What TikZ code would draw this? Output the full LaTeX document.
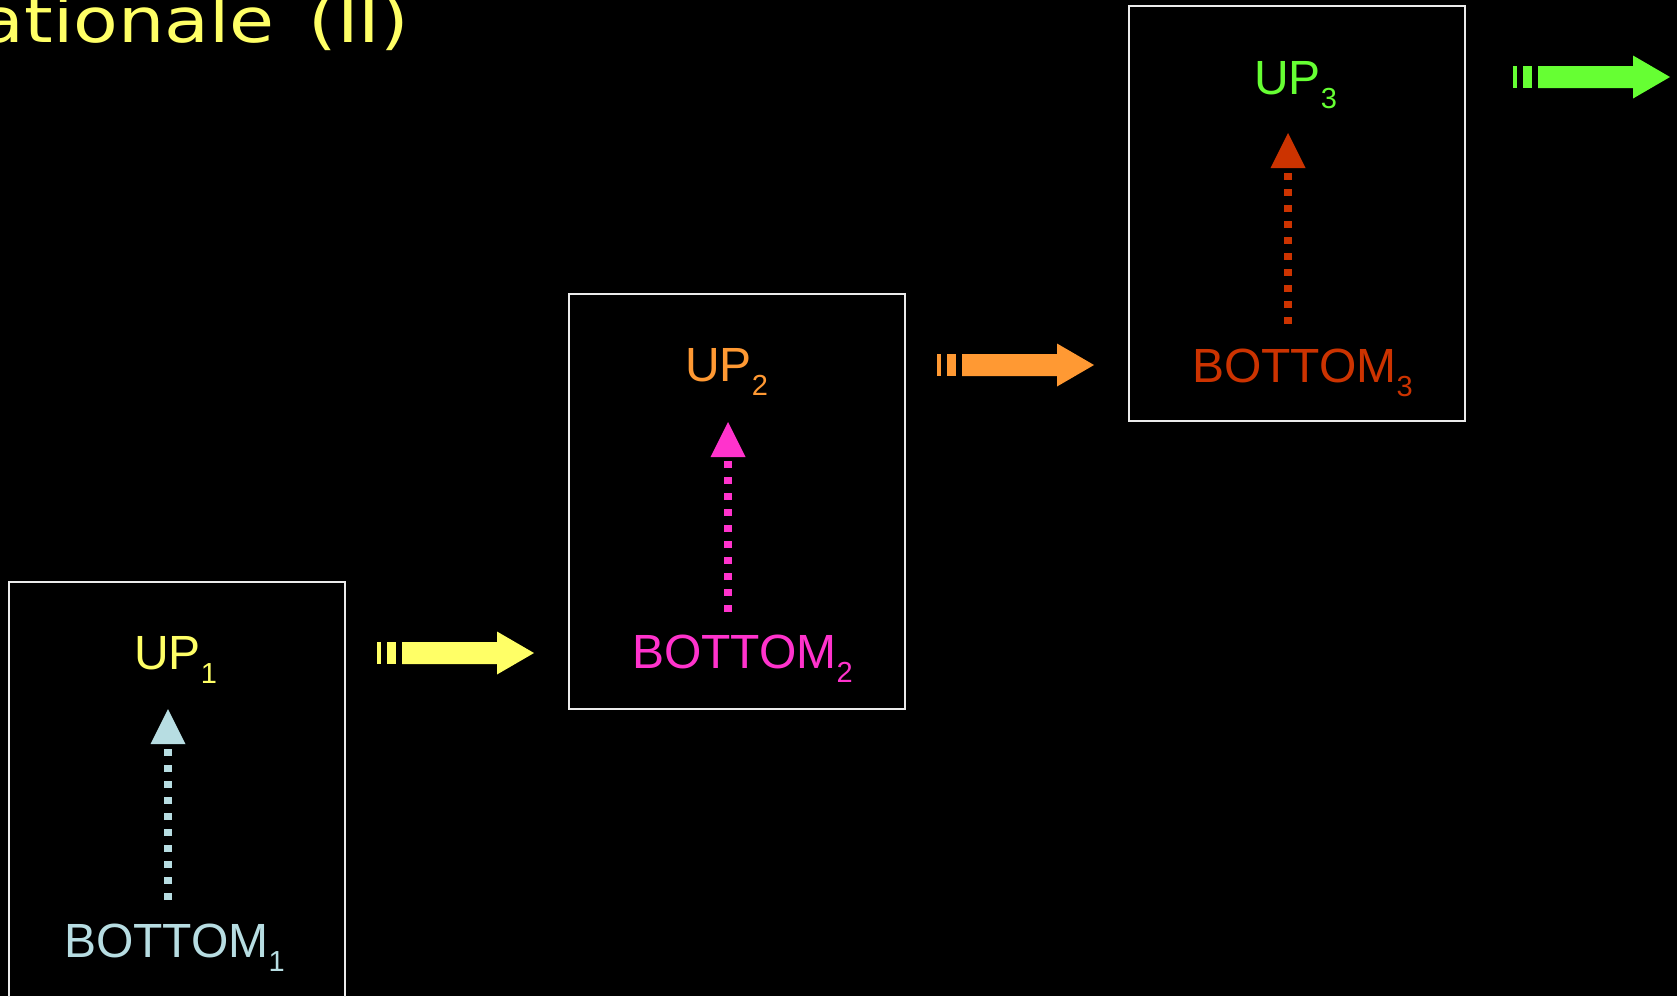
\documentclass[tikz,border=0pt]{standalone}
\usepackage{fontspec}
\setmainfont{Liberation Sans}
\newfontfamily\titlefont{DejaVu Sans}
\usetikzlibrary{arrows.meta}
\definecolor{cyel}{RGB}{255,255,102}
\definecolor{cblue}{RGB}{183,221,226}
\definecolor{corange}{RGB}{255,153,51}
\definecolor{cmag}{RGB}{255,51,204}
\definecolor{cgreen}{RGB}{102,255,51}
\definecolor{cred}{RGB}{204,51,0}
\newcommand\mysub[1]{\raisebox{-14pt}{\fontsize{29}{29}\selectfont #1}}
\tikzset{
  blockarrow/.pic={
    \fill (0,-11) rectangle (4,11);
    \fill (10,-11) rectangle (19,11);
    \fill (25,-11) -- (120,-11) -- (120,-21.5) -- (157,0) -- (120,21.5) -- (120,11) -- (25,11) -- cycle;
  }
}
\begin{document}
\begin{tikzpicture}[x=1pt,y=-1pt,
  lbl/.style={anchor=base west, inner sep=0pt, font=\fontsize{48}{48}\selectfont},
  frame/.style={draw=white!92!black, line width=2pt},
  dotarrow/.style={line width=8pt, dash pattern=on 7pt off 9pt,
    -{Triangle[length=35pt,width=35pt,line width=0pt]}}
]
\useasboundingbox (0,0) rectangle (1677,996);
\fill[black] (0,0) rectangle (1677,996);
\clip (0,0) rectangle (1677,996);

% title (cut at left edge, as in the reference)
\node[anchor=base east, inner sep=0pt, text=cyel,
  font=\titlefont\fontsize{62}{62}\selectfont] (title) at (409,42)
  {\scalebox{1.18}[1]{ationale\hspace{9pt} (II)}};

% frames
\node[frame, anchor=north west, minimum width=336pt, minimum height=418pt, inner sep=0pt] (box1) at (8,581) {};
\node[frame, anchor=north west, minimum width=336pt, minimum height=415pt, inner sep=0pt] (box2) at (568,293) {};
\node[frame, anchor=north west, minimum width=336pt, minimum height=415pt, inner sep=0pt] (box3) at (1128,5) {};

% labels
\node[lbl, text=cyel] (up1) at (134,669) {UP\mysub{1}};
\node[lbl, text=cblue] (bot1) at (64,957) {BOTTOM\mysub{1}};
\node[lbl, text=corange] (up2) at (685,381) {UP\mysub{2}};
\node[lbl, text=cmag] (bot2) at (632,668) {BOTTOM\mysub{2}};
\node[lbl, text=cgreen] (up3) at (1254,94) {UP\mysub{3}};
\node[lbl, text=cred] (bot3) at (1192,382) {BOTTOM\mysub{3}};

% dotted arrows
\coordinate (s1) at (168,900); \coordinate (e1) at (168,709);
\coordinate (s2) at (728,612); \coordinate (e2) at (728,422);
\coordinate (s3) at (1288,324); \coordinate (e3) at (1288,133);
\draw[dotarrow, cblue] (s1) -- (e1);
\draw[dotarrow, cmag] (s2) -- (e2);
\draw[dotarrow, cred] (s3) -- (e3);

% block arrows
\pic[color=cyel] at (377,653) {blockarrow};
\pic[color=corange] at (937,365) {blockarrow};
\pic[color=cgreen] at (1513,77) {blockarrow};
\end{tikzpicture}
\end{document}
